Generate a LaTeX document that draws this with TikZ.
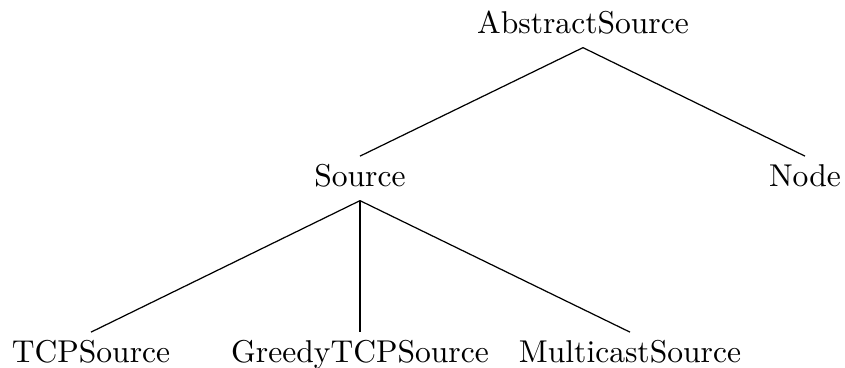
\documentclass[tikz,border=0pt]{standalone}
\begin{document}
\begin{tikzpicture}[x=0.328pt,y=-0.328pt,
  lbl/.style={anchor=base,inner xsep=0pt,inner ysep=2.6pt,text height=7pt,text depth=2pt,font=\fontsize{10.35}{12}\selectfont},
  edge/.style={draw=black,line width=0.4pt}]
\useasboundingbox (0,0) rectangle (845,367);
\node[lbl] (abs) at (583,33) {AbstractSource};
\node[lbl] (src) at (360,186) {Source};
\node[lbl] (nd) at (805,186) {Node};
\node[lbl] (tcp) at (91,362) {TCPSource};
\node[lbl] (gtcp) at (360,362) {GreedyTCPSource};
\node[lbl] (mc) at (630,362) {MulticastSource};
\draw[edge] (abs.south) -- (src.north);
\draw[edge] (abs.south) -- (nd.north);
\draw[edge] (src.south) -- (tcp.north);
\draw[edge] (src.south) -- (gtcp.north);
\draw[edge] (src.south) -- (mc.north);
\end{tikzpicture}
\end{document}
